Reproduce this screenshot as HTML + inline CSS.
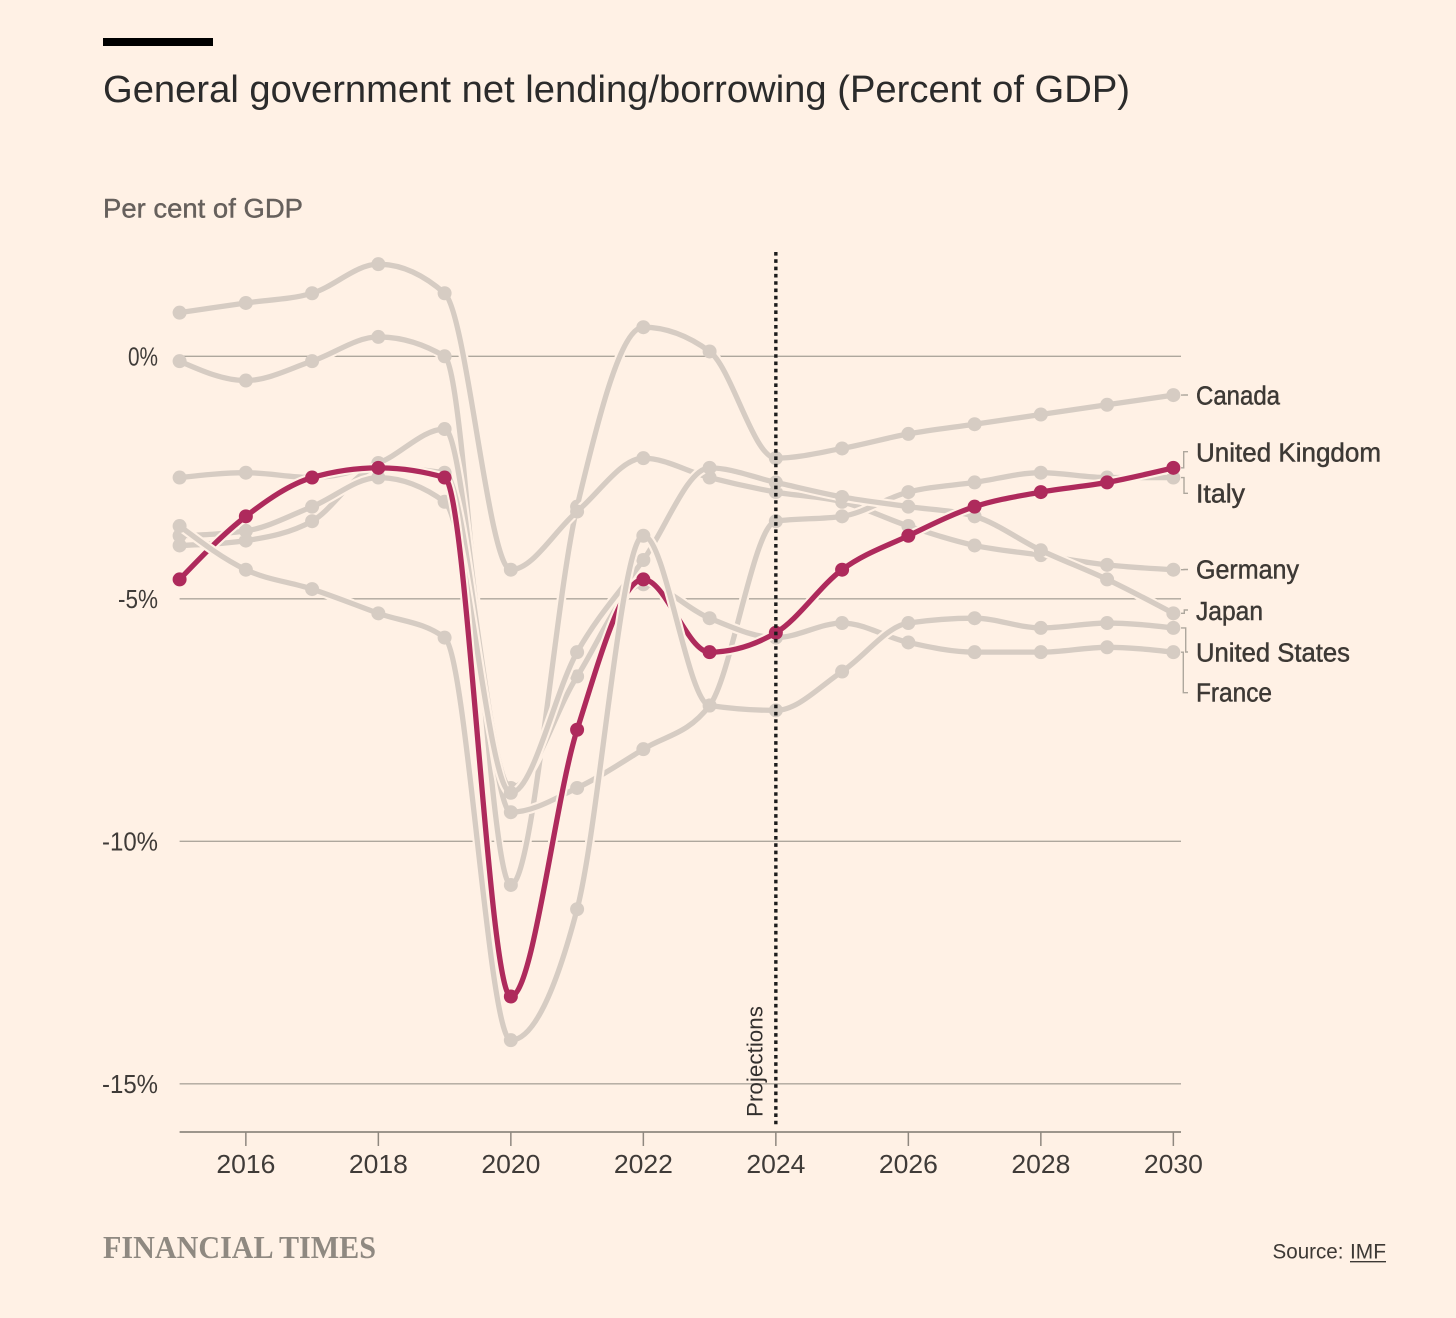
<!DOCTYPE html>
<html lang="en">
<head>
<meta charset="utf-8">
<title>General government net lending/borrowing</title>
<style>
html,body{margin:0;padding:0;background:#fff1e5;}
body{width:1456px;height:1318px;overflow:hidden;}
svg{display:block;font-family:"Liberation Sans",sans-serif;}
.lbl{font-size:25.5px;fill:#3d3935;stroke:#3d3935;stroke-width:.45px;}
.tick{font-size:26px;fill:#3f3b38;}
</style>
</head>
<body>
<svg id="chart" xmlns="http://www.w3.org/2000/svg" width="1456" height="1318" viewBox="0 0 1456 1318">
  <rect x="0" y="0" width="1456" height="1318" fill="#fff1e5"/>
  <rect x="103" y="38" width="110" height="8" fill="#000"/>
  <text x="103" y="102" font-size="38" fill="#2b2b2b" textLength="1027" lengthAdjust="spacingAndGlyphs">General government net lending/borrowing (Percent of GDP)</text>
  <text x="103" y="217.5" font-size="27" fill="#66605c" stroke="#66605c" stroke-width=".4" textLength="200" lengthAdjust="spacingAndGlyphs">Per cent of GDP</text>

  <g id="grid"></g>
  <g id="xaxis"></g>
  <g id="series"></g>
  <g id="connectors"></g>

  <line id="proj-line" y1="252" y2="1128" stroke="#1c1c1c" stroke-width="3.4" stroke-dasharray="3.6 3.7"/>
  <text id="proj-text" font-size="22" fill="#33302e" textLength="111" lengthAdjust="spacingAndGlyphs" transform="translate(762.5,1117) rotate(-90)">Projections</text>

  <text class="lbl" x="1196" y="404.3" textLength="84" lengthAdjust="spacingAndGlyphs">Canada</text>
  <text class="lbl" x="1196" y="461.7" textLength="185" lengthAdjust="spacingAndGlyphs">United Kingdom</text>
  <text class="lbl" x="1196" y="502.7" textLength="49" lengthAdjust="spacingAndGlyphs">Italy</text>
  <text class="lbl" x="1196" y="578.3" textLength="103" lengthAdjust="spacingAndGlyphs">Germany</text>
  <text class="lbl" x="1196" y="620" textLength="67" lengthAdjust="spacingAndGlyphs">Japan</text>
  <text class="lbl" x="1196" y="661.7" textLength="154" lengthAdjust="spacingAndGlyphs">United States</text>
  <text class="lbl" x="1196" y="701.7" textLength="76" lengthAdjust="spacingAndGlyphs">France</text>

  <text x="103" y="1258" font-family="'Liberation Serif',serif" font-weight="700" font-size="31.5" fill="#8f8981" textLength="273" lengthAdjust="spacingAndGlyphs">FINANCIAL TIMES</text>
  <text x="1272.5" y="1258.3" font-size="21.5" fill="#3d3935" textLength="71" lengthAdjust="spacingAndGlyphs">Source:</text>
  <text x="1350" y="1258.3" font-size="21.5" fill="#3d3935" textLength="36" lengthAdjust="spacingAndGlyphs">IMF</text>
  <line x1="1350" x2="1386" y1="1261.7" y2="1261.7" stroke="#3d3935" stroke-width="1.3"/>
</svg>
<script>
const years = [2015,2016,2017,2018,2019,2020,2021,2022,2023,2024,2025,2026,2027,2028,2029,2030];
const canada  = [-0.1,-0.5,-0.1,0.4,0.0,-10.9,-3.1,0.6,0.1,-2.1,-1.9,-1.6,-1.4,-1.2,-1.0,-0.8];
const germany = [0.9,1.1,1.3,1.9,1.3,-4.4,-3.2,-2.1,-2.5,-2.8,-3.0,-3.5,-3.9,-4.1,-4.3,-4.4];
const italy   = [-2.5,-2.4,-2.5,-2.2,-1.5,-9.4,-8.9,-8.1,-7.2,-3.4,-3.3,-2.8,-2.6,-2.4,-2.5,-2.5];
const france  = [-3.9,-3.8,-3.4,-2.3,-2.4,-8.9,-6.6,-4.7,-5.4,-5.8,-5.5,-5.9,-6.1,-6.1,-6.0,-6.1];
const japan   = [-3.7,-3.6,-3.1,-2.5,-3.0,-9.0,-6.1,-4.2,-2.3,-2.6,-2.9,-3.1,-3.3,-4.0,-4.6,-5.3];
const uk      = [-4.6,-3.3,-2.5,-2.3,-2.5,-13.2,-7.7,-4.6,-6.1,-5.7,-4.4,-3.7,-3.1,-2.8,-2.6,-2.3];
const us      = [-3.5,-4.4,-4.8,-5.3,-5.8,-14.1,-11.4,-3.7,-7.2,-7.3,-6.5,-5.5,-5.4,-5.6,-5.5,-5.6];
const yTicks = [0,-5,-10,-15];
const yTickLabels = ['0%','-5%','-10%','-15%'];
const xTicks = [2016,2018,2020,2022,2024,2026,2028,2030];
const xTickLabels = ['2016','2018','2020','2022','2024','2026','2028','2030'];
const projectionYear = 2024;

const NS = 'http://www.w3.org/2000/svg';
const GREY = '#d6ccc3', RED = '#ae2a5c', BG = '#fff1e5', GRID = '#aea79d', AXIS = '#8f887f';
const xScale = v => 179.6 + 66.25 * (v - 2015);
const yScale = v => 356.3 - 48.5 * v;

function make(tag, parent, attrs) {
  const el = document.createElementNS(NS, tag);
  for (const k in attrs) el.setAttribute(k, attrs[k]);
  parent.appendChild(el);
  return el;
}
function sign(v) { return v < 0 ? -1 : 1; }
function monotonePath(px, py) {
  const n = px.length, m = new Array(n);
  for (let i = 1; i < n - 1; i++) {
    const h0 = px[i] - px[i-1], h1 = px[i+1] - px[i];
    const s0 = (py[i] - py[i-1]) / h0, s1 = (py[i+1] - py[i]) / h1;
    const p = (s0 * h1 + s1 * h0) / (h0 + h1);
    m[i] = (sign(s0) + sign(s1)) * Math.min(Math.abs(s0), Math.abs(s1), 0.5 * Math.abs(p)) || 0;
  }
  const hs = px[1] - px[0], he = px[n-1] - px[n-2];
  m[0] = (3 * (py[1] - py[0]) / hs - m[1]) / 2;
  m[n-1] = (3 * (py[n-1] - py[n-2]) / he - m[n-2]) / 2;
  let d = 'M' + px[0].toFixed(2) + ',' + py[0].toFixed(2);
  for (let i = 0; i < n - 1; i++) {
    const dx = (px[i+1] - px[i]) / 3;
    d += 'C' + (px[i] + dx).toFixed(2) + ',' + (py[i] + dx * m[i]).toFixed(2) + ' ' +
         (px[i+1] - dx).toFixed(2) + ',' + (py[i+1] - dx * m[i+1]).toFixed(2) + ' ' +
         px[i+1].toFixed(2) + ',' + py[i+1].toFixed(2);
  }
  return d;
}

/* gridlines and y tick labels */
const gridG = document.getElementById('grid');
yTicks.forEach((t, i) => {
  const ln = make('line', gridG, {x1: xScale(2015), x2: 1181, y1: yScale(t), y2: yScale(t), stroke: GRID, 'stroke-width': 1.4});
  
  
  const s = yTickLabels[i];
  const tx = make('text', gridG, {x: 158, y: yScale(t) + 9, 'text-anchor': 'end', class: 'tick', textLength: s.length === 2 ? 30 : s.length === 3 ? 40 : 56, lengthAdjust: 'spacingAndGlyphs'});
  tx.textContent = s;
  
  
});

/* x axis */
const xG = document.getElementById('xaxis');
const axisLine = make('line', xG, {x1: xScale(2015), x2: 1181, y1: 1132, y2: 1132, stroke: AXIS, 'stroke-width': 1.8});


xTicks.forEach((t, i) => {
  const tk = make('line', xG, {x1: xScale(t), x2: xScale(t), y1: 1132, y2: 1146, stroke: AXIS, 'stroke-width': 1.5});
  
  
  const tx = make('text', xG, {x: xScale(t), y: 1172.8, 'text-anchor': 'middle', class: 'tick', textLength: 59, lengthAdjust: 'spacingAndGlyphs'});
  tx.textContent = xTickLabels[i];
  
  
});

/* series, bottom to top */
const seriesG = document.getElementById('series');
const drawOrder = [
  ['canada', canada, GREY], ['germany', germany, GREY], ['italy', italy, GREY],
  ['france', france, GREY], ['japan', japan, GREY], ['united-kingdom', uk, RED], ['united-states', us, GREY]
];
drawOrder.forEach(([name, values, colour]) => {
  const g = make('g', seriesG, {});
  
  
  const px = years.map(xScale), py = values.map(yScale);
  const d = monotonePath(px, py);
  const halo = make('path', g, {d: d, fill: 'none', stroke: BG, 'stroke-width': 9.5});
  
  
  const line = make('path', g, {d: d, fill: 'none', stroke: colour, 'stroke-width': 5.3});
  
  
  values.forEach((v, i) => {
    const c = make('circle', g, {cx: xScale(years[i]), cy: yScale(v), r: 7, fill: colour});
    
    
  });
});

/* connectors from the last point to each label */
const connG = document.getElementById('connectors');
const connectorSpec = [
  [canada, 1184, 395],
  [uk, 1183.7, 451.7],
  [italy, 1184, 493.3],
  [germany, 1184, 569.5],
  [japan, 1184.3, 610],
  [us, 1185.7, 652],
  [france, 1183.3, 692.7]
];
connectorSpec.forEach(([values, elbow, labelY]) => {
  const y0 = yScale(values[values.length - 1]);
  const p = make('path', connG, {d: 'M1181,' + y0 + 'H' + elbow + 'V' + labelY + 'H1188', fill: 'none', stroke: GRID, 'stroke-width': 1.4});
  
  
});

/* projections divider */
const pl = document.getElementById('proj-line');
pl.setAttribute('x1', xScale(projectionYear));
pl.setAttribute('x2', xScale(projectionYear));
</script>
</body>
</html>
